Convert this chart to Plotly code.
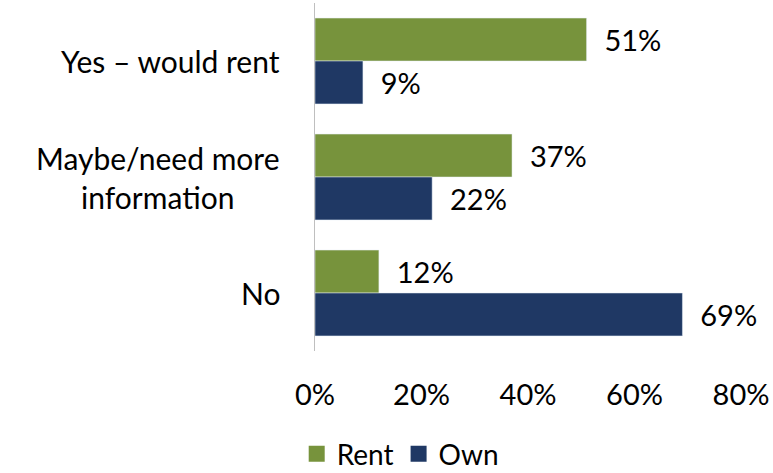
import plotly.graph_objects as go

categories = ["Yes – would rent", "Maybe/need more<br>information", "No"]
rent = [51, 37, 12]
own = [9, 22, 69]
x_ticks = [0, 20, 40, 60, 80]
x_tick_labels = ["0%", "20%", "40%", "60%", "80%"]

FONT = "Lato, Calibri, sans-serif"
FS = 29
RENT_C = "#77933C"
OWN_C = "#1F3864"
fig = go.Figure()
fig.add_trace(go.Bar(y=categories, x=rent, name="Rent", orientation="h",
                     marker_color=RENT_C, showlegend=False,
                     text=[f"  {v}%" for v in rent], textposition="outside",
                     textfont=dict(size=FS, color="black", family=FONT),
                     cliponaxis=False))
fig.add_trace(go.Bar(y=categories, x=own, name="Own", orientation="h",
                     marker_color=OWN_C, showlegend=False,
                     text=[f"  {v}%" for v in own], textposition="outside",
                     textfont=dict(size=FS, color="black", family=FONT),
                     cliponaxis=False))
# legend entries with square markers
for nm, col in [("Rent", RENT_C), ("Own", OWN_C)]:
    fig.add_trace(go.Scatter(x=[None], y=[None], mode="markers", name=nm,
                             marker=dict(symbol="square", size=20, color=col)))

for c in categories:
    fig.add_annotation(x=0, xref="paper", xshift=-33, xanchor="right",
                       y=c, yref="y", text=c, showarrow=False, align="center",
                       font=dict(size=30, color="black", family=FONT))

fig.update_layout(
    width=773, height=473,
    margin=dict(l=315, r=32, t=3, b=122, autoexpand=False),
    plot_bgcolor="white", paper_bgcolor="white",
    barmode="group", bargap=0.26, bargroupgap=0,
    font=dict(family=FONT, size=FS, color="black"),
    xaxis=dict(range=[0, 80], tickvals=x_ticks, ticktext=x_tick_labels,
               showgrid=False, zeroline=False, showline=False,
               ticks="", ticklabelstandoff=24,
               tickfont=dict(size=FS, color="black", family=FONT)),
    yaxis=dict(autorange="reversed", showticklabels=False, showgrid=False,
               showline=True, linecolor="#BFBFBF", linewidth=1, zeroline=False),
    legend=dict(orientation="h", x=0.2, xanchor="center",
                yref="container", y=0.04, yanchor="middle",
                font=dict(size=28, color="black", family=FONT),
                itemsizing="trace", itemwidth=30, tracegroupgap=0),
    showlegend=True,
)

fig.write_html("out.html")
